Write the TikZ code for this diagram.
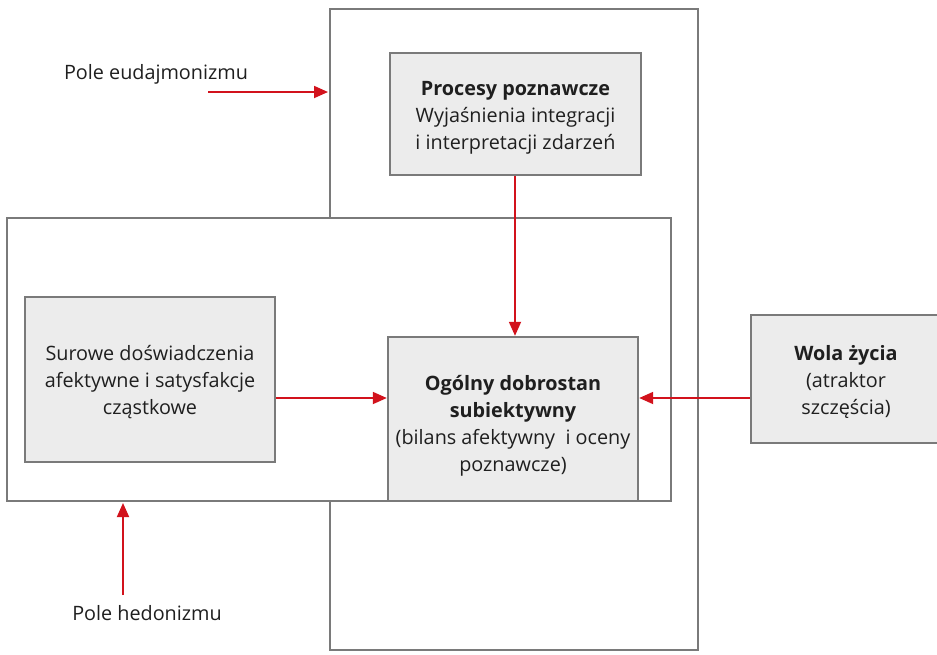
\documentclass[tikz,border=0pt]{standalone}
\usepackage{fontspec}
\setmainfont{Open Sans}
\usetikzlibrary{arrows.meta}
\definecolor{framegray}{HTML}{7A7A7A}
\definecolor{boxfill}{HTML}{ECECEC}
\definecolor{arrowred}{HTML}{D2121C}
\begin{document}
\begin{tikzpicture}[x=1pt,y=-1pt,
  frame/.style={draw=framegray,line width=1.8pt},
  box/.style={draw=framegray,fill=boxfill,line width=2.4pt,inner sep=0pt},
  lbl/.style={font=\fontsize{19.8}{27}\selectfont,text=black!88,inner sep=0pt,align=center},
  boxtext/.style={label={[lbl,yshift=-#1]center:}},
  link/.style={draw=arrowred,line width=1.8pt,
    -{Triangle[length=14pt,width=12pt]}}]
\useasboundingbox (0,0) rectangle (937,654);
% outer frames
\draw[frame] (330,9) rectangle (698,650);
\draw[frame,fill=white] (7,218) rectangle (671,501);
\draw[frame] (330,9) -- (330,218);
% boxes, each with its text set as a centred label
\node[box,minimum width=251pt,minimum height=122pt,
  label={[lbl,yshift=-4pt]center:{\textbf{Procesy poznawcze}\\Wyjaśnienia integracji\\i interpretacji zdarzeń}}]
  (proc) at (515.5,114) {};
\node[box,minimum width=250pt,minimum height=165pt,
  label={[lbl,yshift=-3pt]center:{Surowe doświadczenia\\afektywne i satysfakcje\\cząstkowe}}]
  (raw) at (150,379.5) {};
\node[box,minimum width=250pt,minimum height=164pt,
  label={[lbl,yshift=-7pt]center:{\textbf{Ogólny dobrostan}\\\textbf{subiektywny}\\(bilans afektywny\ \ i oceny\\poznawcze)}}]
  (swb) at (513,419) {};
\node[box,minimum width=190pt,minimum height=128pt,
  label={[lbl,yshift=-3pt]center:{\textbf{Wola życia}\\(atraktor\\szczęścia)}}]
  (will) at (846,379) {};
% free labels
\node[lbl] (eud) at (156,74) {Pole eudajmonizmu};
\node[lbl] (hed) at (147,613) {Pole hedonizmu};
\coordinate (eudA) at (208,92);
\coordinate (eudB) at (328,92);
\coordinate (hedA) at (123,595);
\coordinate (hedB) at (123,503);
% connectors
\draw[link] (proc.south -| 515,0) -- (swb.north -| 515,0);
\draw[link] (raw.east |- 0,398) -- (swb.west |- 0,398);
\draw[link] (will.west |- 0,398) -- (swb.east |- 0,398);
\draw[link] (eudA) -- (eudB);
\draw[link] (hedA) -- (hedB);
\end{tikzpicture}
\end{document}
